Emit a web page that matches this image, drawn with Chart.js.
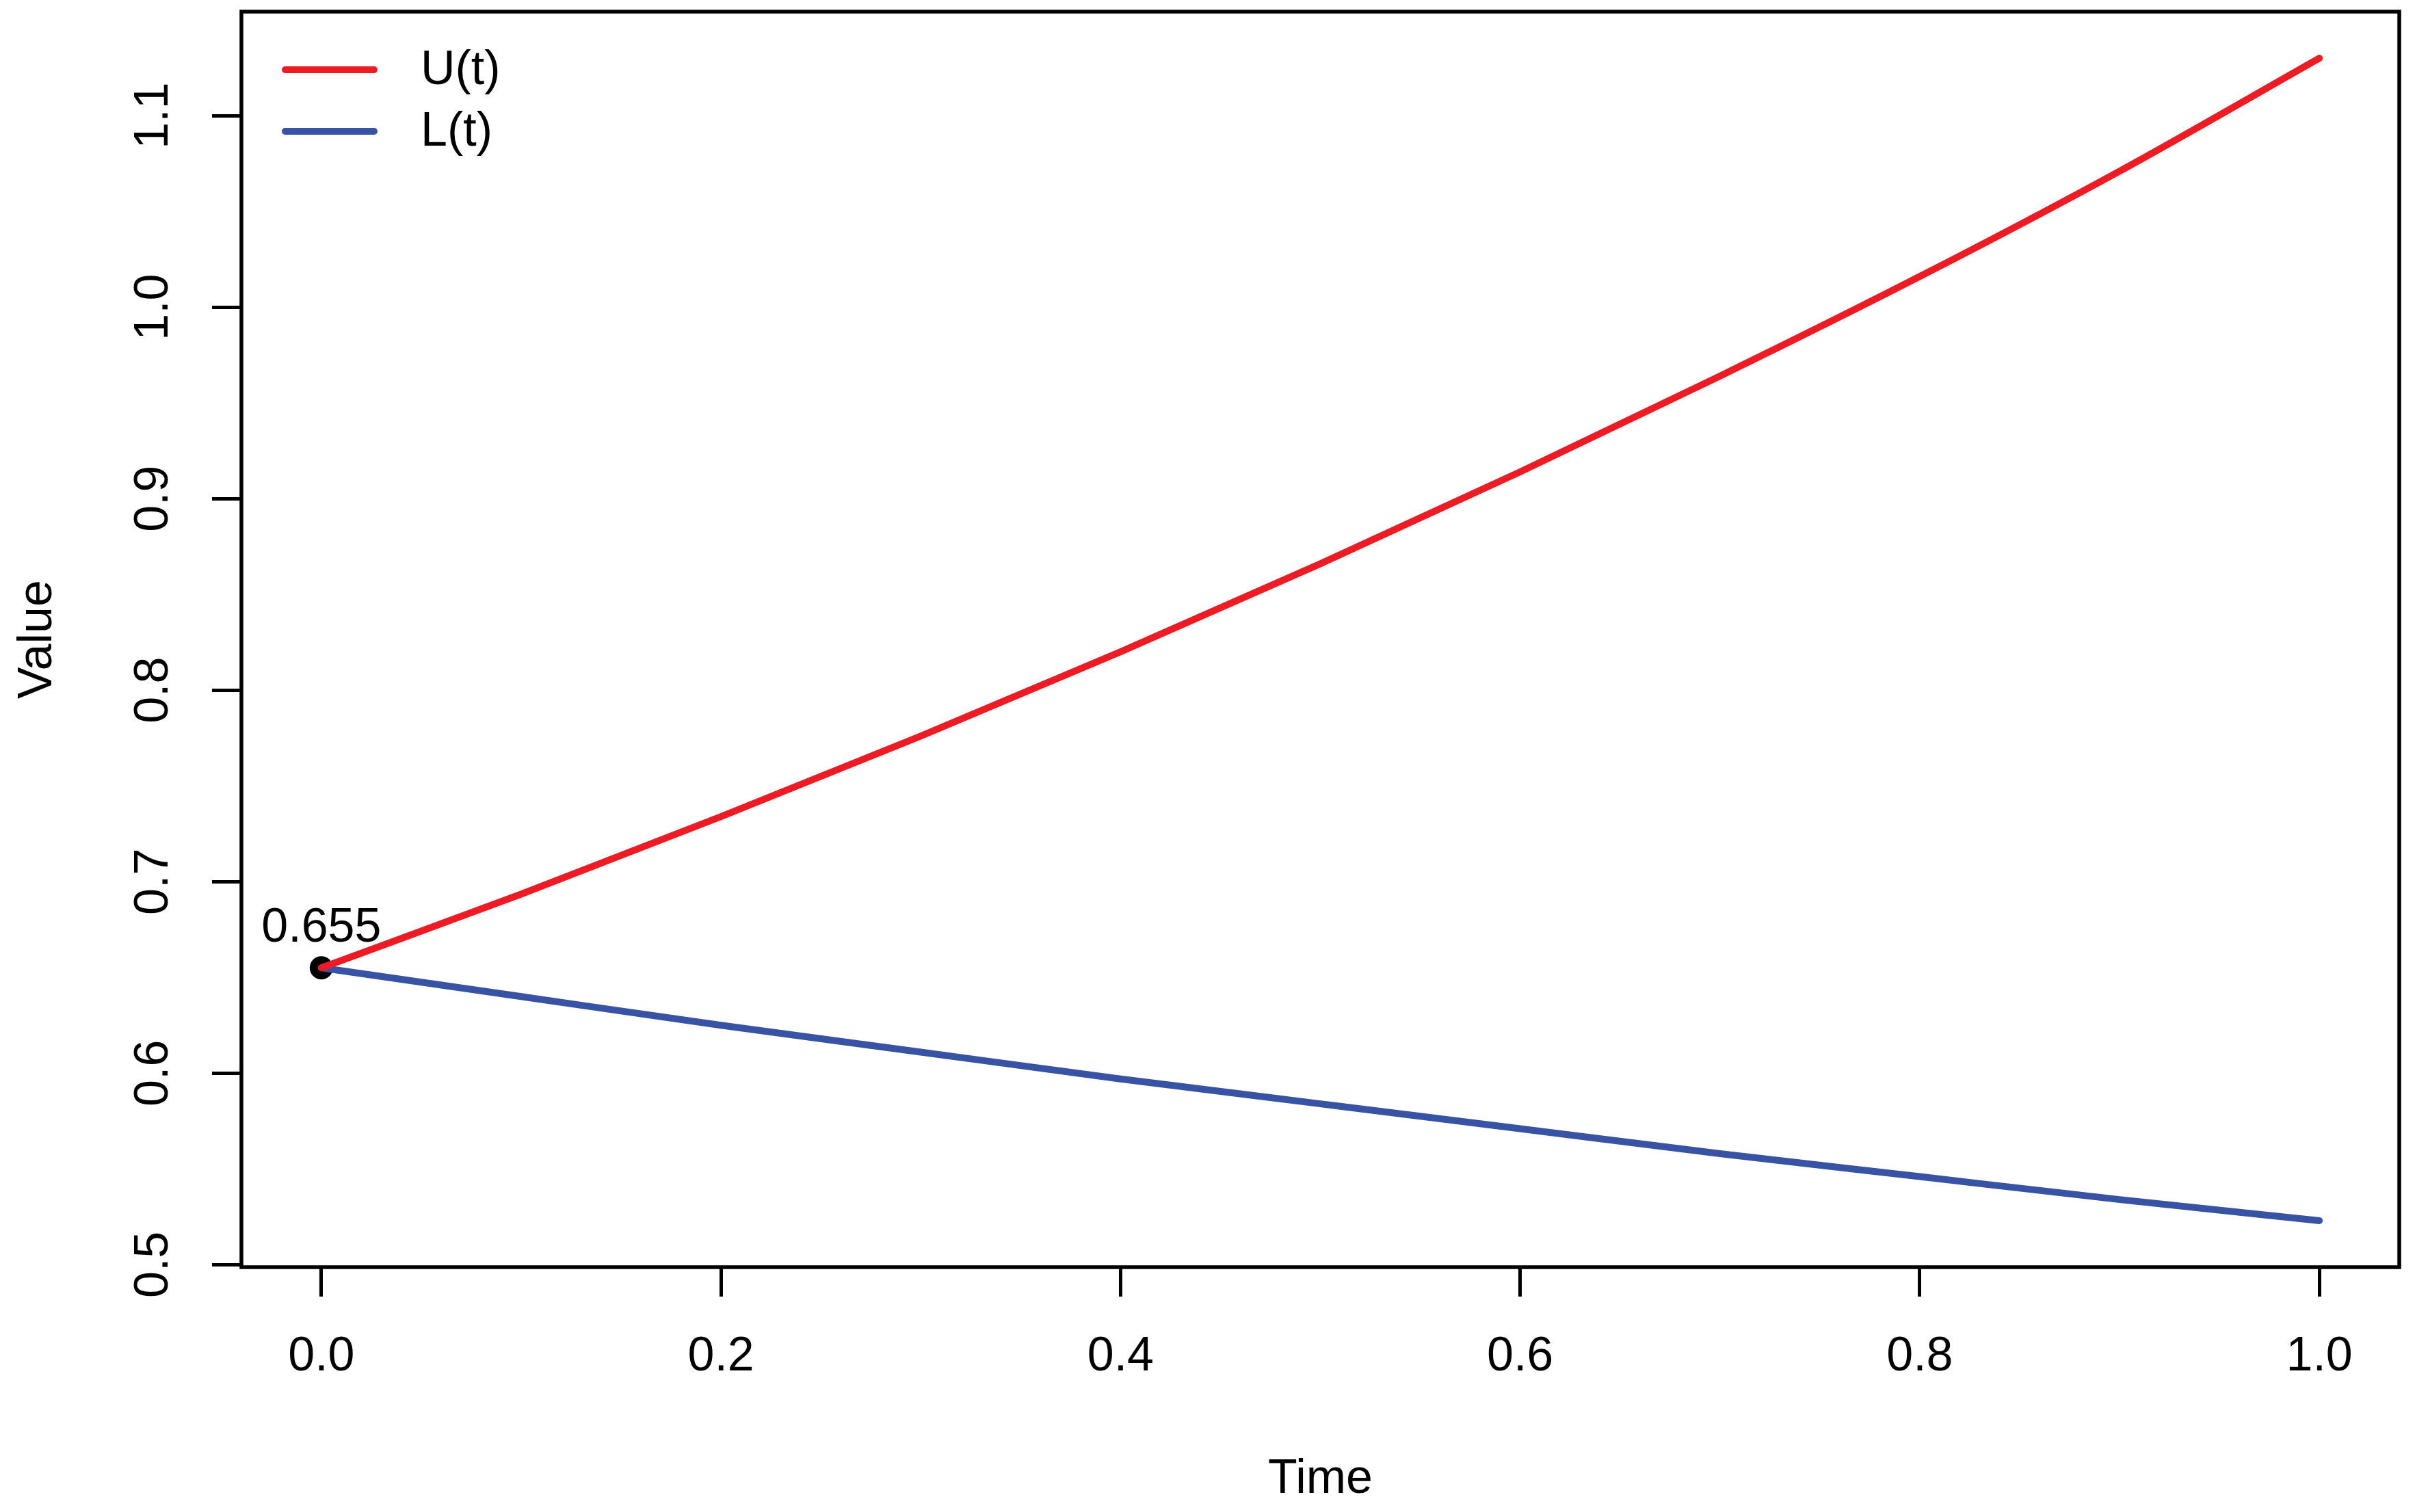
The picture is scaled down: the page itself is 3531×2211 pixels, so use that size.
<!DOCTYPE html>
<html>
<head>
<meta charset="utf-8">
<title>U(t) and L(t)</title>
<script src="https://cdn.jsdelivr.net/npm/chart.js@4.4.1/dist/chart.umd.min.js"></script>
<style>
  html, body { margin: 0; padding: 0; background: #fff; }
  canvas { display: block; }
</style>
</head>
<body>
<canvas id="grafica" width="3531" height="2211"></canvas>
<script>
// Datos
const tiempos = [0, 0.1, 0.2, 0.3, 0.4, 0.5, 0.6, 0.7, 0.8, 0.9, 1.0];
const valoresU = [0.655, 0.6935, 0.734, 0.776, 0.820, 0.866, 0.914, 0.964, 1.016, 1.071, 1.130];
const valoresL = [0.655, 0.640, 0.625, 0.611, 0.597, 0.584, 0.571, 0.558, 0.546, 0.534, 0.523];
const puntoInicial = { t: 0, v: 0.655, etiqueta: '0.655' };
const ticksX = [0, 0.2, 0.4, 0.6, 0.8, 1.0];
const ticksY = [0.5, 0.6, 0.7, 0.8, 0.9, 1.0, 1.1];
const nombres = ['U(t)', 'L(t)'];

const ROJO = '#ED1C24';
const AZUL = '#3953A4';
const FUENTE = "'Liberation Sans', Arial, sans-serif";
const TAM = 70;

const aPuntos = (xs, ys) => xs.map((x, i) => ({ x: x, y: ys[i] }));

// Caja alrededor del area de trazado (estilo R)
const marco = {
    id: 'marco',
    afterDraw(chart) {
        const { ctx, chartArea: a } = chart;
        ctx.save();
        ctx.strokeStyle = '#000';
        ctx.lineWidth = 5.5;
        ctx.strokeRect(a.left, a.top, a.right - a.left, a.bottom - a.top);
        ctx.restore();
    }
};

// Leyenda en la esquina superior izquierda
const leyenda = {
    id: 'leyenda',
    afterDraw(chart) {
        const { ctx, chartArea: a } = chart;
        const filas = chart.data.datasets.filter(d => d.label);
        ctx.save();
        ctx.font = TAM + 'px ' + FUENTE;
        ctx.textBaseline = 'middle';
        ctx.fillStyle = '#000';
        ctx.lineCap = 'round';
        filas.forEach((d, i) => {
            const y = a.top + 85 + i * 90;
            ctx.strokeStyle = d.borderColor;
            ctx.lineWidth = d.borderWidth;
            ctx.beginPath();
            ctx.moveTo(a.left + 64, y);
            ctx.lineTo(a.left + 194, y);
            ctx.stroke();
            ctx.fillText(d.label, a.left + 262, y + 2);
        });
        ctx.restore();
    }
};

// Etiqueta del valor inicial sobre el punto
const etiquetaPunto = {
    id: 'etiquetaPunto',
    afterDatasetsDraw(chart) {
        const { ctx, scales } = chart;
        const px = scales.x.getPixelForValue(puntoInicial.t);
        const py = scales.y.getPixelForValue(puntoInicial.v);
        ctx.save();
        ctx.font = TAM + 'px ' + FUENTE;
        ctx.fillStyle = '#000';
        ctx.textAlign = 'center';
        ctx.textBaseline = 'alphabetic';
        ctx.fillText(puntoInicial.etiqueta, px, py - 38);
        ctx.restore();
    }
};

const ejeComun = {
    type: 'linear',
    border: { display: false },
    grid: {
        display: true,
        drawOnChartArea: false,
        drawTicks: true,
        tickLength: 43,
        tickWidth: 5,
        color: '#000'
    }
};

new Chart(document.getElementById('grafica').getContext('2d'), {
    type: 'scatter',
    data: {
        datasets: [
            {
                label: nombres[0],
                data: aPuntos(tiempos, valoresU),
                showLine: true,
                borderColor: ROJO,
                borderWidth: 10,
                borderCapStyle: 'round',
                cubicInterpolationMode: 'monotone',
                pointRadius: 0,
                fill: false
            },
            {
                label: nombres[1],
                data: aPuntos(tiempos, valoresL),
                showLine: true,
                borderColor: AZUL,
                borderWidth: 10,
                borderCapStyle: 'round',
                cubicInterpolationMode: 'monotone',
                pointRadius: 0,
                fill: false
            },
            {
                label: '',
                data: [{ x: puntoInicial.t, y: puntoInicial.v }],
                pointRadius: 17,
                pointBackgroundColor: '#000',
                pointBorderColor: '#000',
                pointBorderWidth: 0
            }
        ]
    },
    options: {
        responsive: false,
        animation: false,
        devicePixelRatio: 1,
        layout: { padding: { left: 0, top: 16, right: 23, bottom: 0 } },
        plugins: {
            legend: { display: false },
            tooltip: { enabled: false }
        },
        scales: {
            x: {
                ...ejeComun,
                position: 'bottom',
                min: -0.04,
                max: 1.04,
                afterBuildTicks: s => { s.ticks = ticksX.map(v => ({ value: v })); },
                afterFit: s => { s.height = 358; s.paddingLeft = 0; s.paddingRight = 0; },
                ticks: {
                    padding: 47,
                    color: '#000',
                    font: { family: FUENTE, size: TAM },
                    maxRotation: 0,
                    callback: v => Number(v).toFixed(1)
                },
                title: {
                    display: true,
                    text: 'Time',
                    color: '#000',
                    font: { family: FUENTE, size: TAM },
                    padding: { top: 0, bottom: 5 }
                }
            },
            y: {
                ...ejeComun,
                position: 'left',
                min: 0.4987,
                max: 1.1543,
                afterBuildTicks: s => { s.ticks = ticksY.map(v => ({ value: v })); },
                afterFit: s => { s.width = 353; s.paddingTop = 0; s.paddingBottom = 0; },
                ticks: {
                    padding: 36,
                    color: '#000',
                    crossAlign: 'center',
                    minRotation: 90,
                    maxRotation: 90,
                    font: { family: FUENTE, size: TAM },
                    callback: v => Number(v).toFixed(1)
                },
                title: {
                    display: true,
                    text: 'Value',
                    color: '#000',
                    font: { family: FUENTE, size: TAM },
                    padding: { top: 14, bottom: 0 }
                }
            }
        }
    },
    plugins: [marco, leyenda, etiquetaPunto]
});
</script>
</body>
</html>
